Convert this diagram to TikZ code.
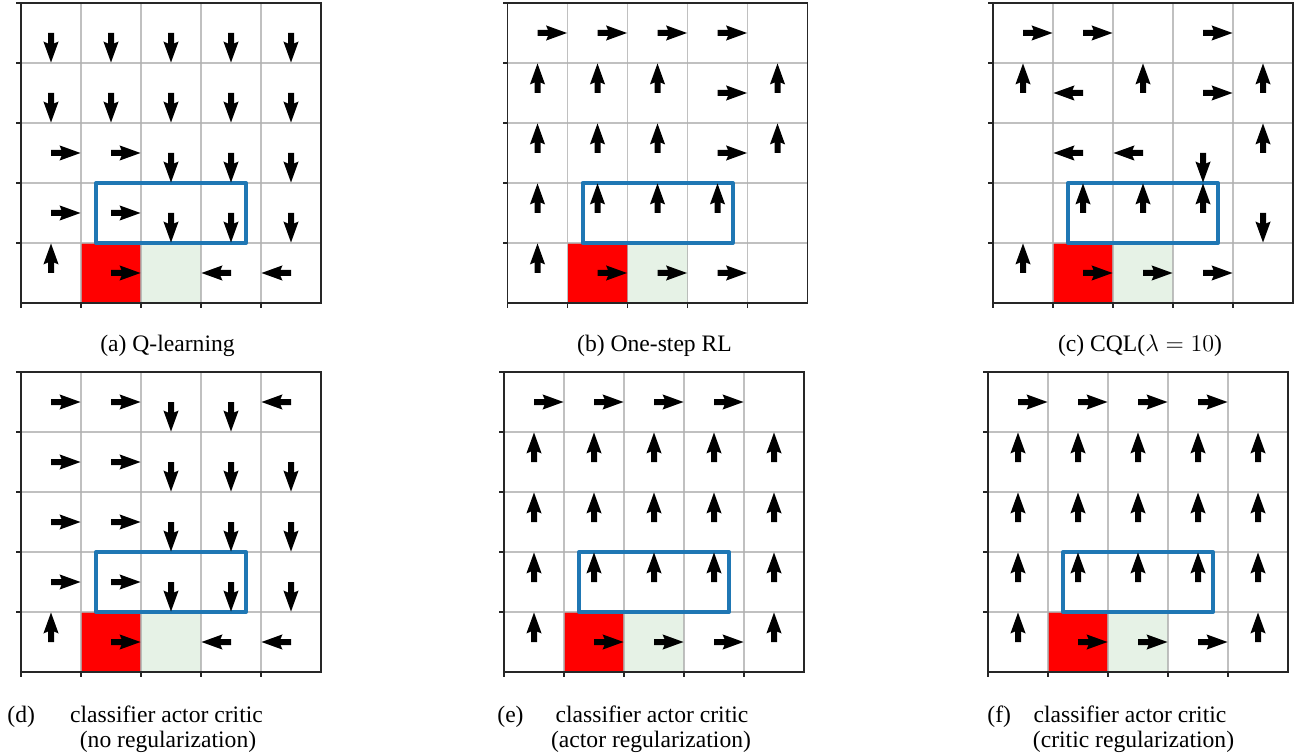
\documentclass[tikz,border=0pt]{standalone}
\usepackage{fontspec}
\setmainfont{Liberation Serif}
\usepackage{amsmath}
\usepackage{xcolor}
\definecolor{goalred}{RGB}{255,0,0}
\definecolor{startgreen}{RGB}{230,242,230}
\definecolor{boxblue}{RGB}{31,119,180}
\definecolor{gridgray}{RGB}{176,176,176}
\tikzset{
  gridline/.style={draw=gridgray, line width=0.6pt, opacity=0.8},
  frameline/.style={draw=black!85, line width=0.6pt},
  hlbox/.style={draw=boxblue, line width=2pt, line join=round},
  quiver/.style={fill=black},
  caption/.style={font=\fontsize{11.8}{13}\selectfont, inner sep=0pt},
}

\begin{document}
\begin{tikzpicture}[x=0.5pt, y=-0.5pt]
\useasboundingbox (0,0) rectangle (1294,753);
\newcommand\cell{60}
\def\qdirR{0}\def\qdirU{90}\def\qdirL{180}\def\qdirD{270}
% quiver arrow, tail at (#1,#2), angle #3
\newcommand\qarrow[3]{\fill[quiver, shift={(#1,#2)}, rotate=#3] (0,3) -- (10.5,3) -- (8.5,7.6) -- (29.5,0) -- (8.5,-7.6) -- (10.5,-3) -- (0,-3) -- cycle;}
% 5x5 panel, top left corner at (#1,#2), arrows row by row (N = none)
\newcommand\gridpanel[3]{
  % goal and start cells
  \fill[goalred] (#1+\cell, #2+4*\cell) rectangle (#1+2*\cell, #2+5*\cell);
  \fill[startgreen] (#1+2*\cell, #2+4*\cell) rectangle (#1+3*\cell, #2+5*\cell);
  % grid
  \foreach \k in {1,2,3,4} {
    \draw[gridline] (#1+\k*\cell, #2) -- (#1+\k*\cell, #2+5*\cell);
    \draw[gridline] (#1, #2+\k*\cell) -- (#1+5*\cell, #2+\k*\cell);
  }
  % axis
  \draw[frameline] (#1, #2) rectangle (#1+5*\cell, #2+5*\cell);
  \foreach \k in {0,1,2,3,4} {
    \draw[frameline] (#1, #2+\k*\cell) -- (#1-5, #2+\k*\cell);
    \draw[frameline] (#1+\k*\cell, #2+5*\cell) -- (#1+\k*\cell, #2+5*\cell+5);
  }
  % blue box
  \draw[hlbox] (#1+1.25*\cell, #2+3*\cell) rectangle (#1+3.75*\cell, #2+4*\cell);
  % arrows
  \foreach \row [count=\rw from 0] in {#3} {
    \foreach \d [count=\col from 0] in \row {
      \if N\d\else
        \edef\qang{\csname qdir\d\endcsname}
        \qarrow{#1+\col*\cell+\cell/2}{#2+\rw*\cell+\cell/2}{\qang}
      \fi
    }
  }
}

% top row
\gridpanel{21}{3}{{D,D,D,D,D},{D,D,D,D,D},{R,R,D,D,D},{R,R,D,D,D},{U,R,N,L,L}}
\gridpanel{507.5}{3}{{R,R,R,R,N},{U,U,U,R,U},{U,U,U,R,U},{U,U,U,U,N},{U,R,R,R,N}}
\gridpanel{993}{3}{{R,R,N,R,N},{U,L,U,R,U},{N,L,L,D,U},{N,U,U,U,D},{U,R,R,R,N}}
% bottom row
\gridpanel{21}{372}{{R,R,D,D,L},{R,R,D,D,D},{R,R,D,D,D},{R,R,D,D,D},{U,R,N,L,L}}
\gridpanel{504}{372}{{R,R,R,R,N},{U,U,U,U,U},{U,U,U,U,U},{U,U,U,U,U},{U,R,R,R,U}}
\gridpanel{988}{372}{{R,R,R,R,N},{U,U,U,U,U},{U,U,U,U,U},{U,U,U,U,U},{U,R,R,R,U}}

% captions
\node[caption, anchor=base] (capa) at (167.5,351) {(a) Q-learning};
\node[caption, anchor=base] (capb) at (654.5,351) {(b) One-step RL};
\node[caption, anchor=base] (capc) at (1140,351) {(c) CQL($\lambda=10$)};
\node[caption, anchor=base west] (capd) at (7,722) {(d)};
\node[caption, anchor=base] (capdtop) at (166.5,722) {classifier actor critic};
\node[caption, anchor=base] (capdbot) at (168,747) {(no regularization)};
\node[caption, anchor=base west] (cape) at (497,722) {(e)};
\node[caption, anchor=base] (capetop) at (652,722) {classifier actor critic};
\node[caption, anchor=base] (capebot) at (651,747) {(actor regularization)};
\node[caption, anchor=base west] (capf) at (987,722) {(f)};
\node[caption, anchor=base] (capftop) at (1130,722) {classifier actor critic};
\node[caption, anchor=base] (capfbot) at (1133.5,747) {(critic regularization)};
\end{tikzpicture}
\end{document}
